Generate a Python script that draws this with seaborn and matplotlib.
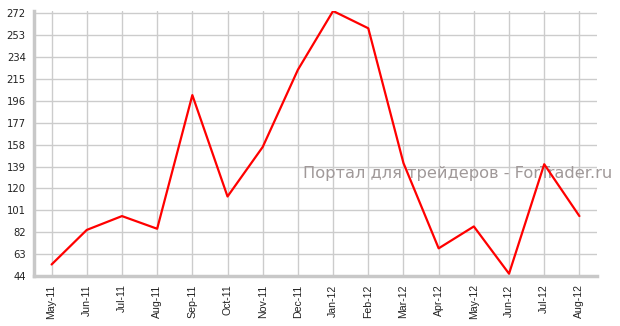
import matplotlib
matplotlib.use("Agg")
import matplotlib.pyplot as plt
import seaborn as sns
import pandas as pd

months = ["May-11", "Jun-11", "Jul-11", "Aug-11", "Sep-11", "Oct-11", "Nov-11", "Dec-11",
          "Jan-12", "Feb-12", "Mar-12", "Apr-12", "May-12", "Jun-12", "Jul-12", "Aug-12"]
values = [54, 84, 96, 85, 201, 113, 156, 223, 274, 259, 142, 68, 87, 46, 141, 96]
yticks = [44, 63, 82, 101, 120, 139, 158, 177, 196, 215, 234, 253, 272]

df = pd.DataFrame({"idx": range(len(months)), "month": months, "value": values})

sns.set_theme(style="white")
plt.rcParams['font.family'] = ['DejaVu Sans']

fig = plt.figure(figsize=(6.2, 3.26), dpi=100)
ax = fig.add_axes([34/620, 1 - 276/326, (597 - 34)/620, (276 - 11)/326])

sns.lineplot(data=df, x="idx", y="value", color="#ff0000", linewidth=1.6, ax=ax, zorder=5)

ax.set_xlim(-0.5, len(months) - 0.5)
ax.set_ylim(44, 274)
ax.set_yticks(yticks)
ax.set_yticklabels([str(t) for t in yticks], fontsize=7.2, color="#222222")
ax.set_xticks(range(len(months)))
ax.set_xticklabels(months, rotation=90, fontsize=7.6, color="#222222", family="Liberation Sans")

ax.grid(True, color="#cccccc", linewidth=1.0)
ax.set_axisbelow(True)
for s in ["top", "right"]:
    ax.spines[s].set_visible(False)
for s in ["left", "bottom"]:
    ax.spines[s].set_color("#c8c8c8")
    ax.spines[s].set_linewidth(2.5)
ax.tick_params(axis="both", length=4, color="#cccccc", width=1, pad=2)
ax.set_xlabel("")
ax.set_ylabel("")

ax.text(303/620, 1 - 173/326, "Портал для трейдеров - ForTrader.ru", fontsize=11.7,
        color="#a09999", va="center", ha="left", transform=fig.transFigure,
        zorder=3, clip_on=False)

fig.savefig("out.png", dpi=100)
